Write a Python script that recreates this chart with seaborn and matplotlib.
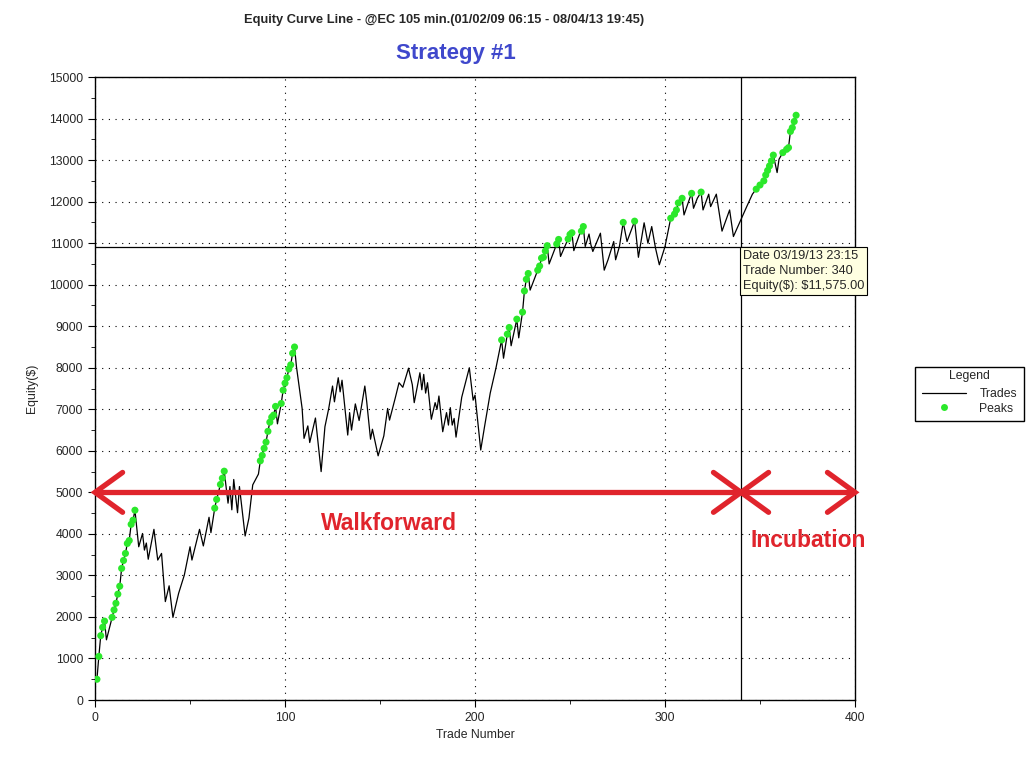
import numpy as np
import pandas as pd
import matplotlib
matplotlib.use("Agg")
import matplotlib.pyplot as plt
from matplotlib.lines import Line2D
import seaborn as sns

# equity curve vertices (trade number, equity $)
trade_no = [1, 2, 3, 4, 5, 6, 9, 10, 11, 12, 13, 14, 15, 16, 17, 18, 19, 20, 21,
            23, 25, 26, 27, 28, 31, 33, 35, 37, 39, 41, 44, 47, 50, 51, 55, 57, 60, 61,
            63, 64, 66, 67, 68, 70, 71, 72, 73, 75, 76, 79, 81, 83, 86,
            87, 88, 89, 90, 91, 92, 93, 94, 95, 96, 98, 99, 100, 101, 102, 103, 104, 105,
            106, 109, 110, 112, 113, 116, 119, 121, 123, 125, 126, 128, 129, 130,
            133, 134, 135, 137, 139, 142, 143, 145, 146, 149, 152, 154, 155, 158, 160,
            162, 165, 167, 168, 171, 172, 173, 174, 175, 177, 179, 180, 181, 183, 185,
            186, 187, 188, 189, 190, 193, 197, 199, 200, 203, 205, 208, 211,
            214, 215, 217, 218, 219, 222, 223, 225, 226, 227, 228, 229,
            233, 234, 235, 236, 237, 238, 239, 243, 244, 245, 249, 250, 251, 252,
            255, 256, 257, 258, 260, 261, 262, 266, 268, 270, 273, 274, 276, 278, 280,
            284, 286, 289, 291, 293, 295, 297, 300, 303, 305, 306, 307, 309, 310,
            313, 314, 315, 317, 319, 320, 323, 324, 327, 330, 334, 336, 340, 343, 346,
            348, 350, 352, 353, 354, 355, 356, 357, 359, 360, 362, 364, 365, 366, 367,
            368, 369]
equity = [500, 1050, 1550, 1750, 1900, 1450, 1990, 2170, 2330, 2550, 2740, 3170, 3360, 3530, 3770, 3840, 4230, 4330, 4570,
          3690, 4010, 3610, 3780, 3390, 4110, 3370, 3530, 2370, 2750, 1990, 2570, 3010, 3690, 3370, 4110, 3710, 4400, 4030,
          4620, 4830, 5190, 5340, 5510, 4740, 5140, 4580, 5310, 4510, 5140, 3950, 4380, 5180, 5440,
          5760, 5890, 6060, 6210, 6470, 6690, 6810, 6860, 7070, 6650, 7140, 7460, 7630, 7760, 7970, 8070, 8350, 8500,
          8030, 7020, 6300, 6600, 6200, 6790, 5500, 6580, 7020, 7560, 7180, 7760, 7420, 7700,
          6380, 6920, 6500, 7130, 6730, 7560, 7180, 6280, 6520, 5880, 6360, 7020, 6740, 7270, 7640,
          7530, 7990, 7590, 7160, 7880, 7470, 7840, 7390, 7640, 6760, 7160, 7000, 7320, 6460, 6920,
          6620, 7040, 6620, 6780, 6330, 7290, 8000, 7220, 7340, 6020, 6580, 7390, 7990,
          8670, 8230, 8810, 8970, 8530, 9170, 8720, 9340, 9850, 10130, 10270, 9870,
          10350, 10450, 10640, 10660, 10810, 10940, 10500, 10980, 11090, 10680, 11100, 11210, 11250, 10820,
          11210, 11290, 11400, 10920, 11220, 10960, 10800, 11240, 10350, 10600, 11040, 10600, 10920, 11500, 11040,
          11530, 10660, 11490, 11000, 11400, 10880, 10480, 10920, 11600, 11700, 11800, 11970, 12080, 11680,
          12080, 12200, 11840, 12080, 12230, 11800, 12180, 11880, 12180, 11290, 11800, 11160, 11575, 11880, 12180,
          12300, 12400, 12500, 12640, 12750, 12860, 12980, 13120, 12700, 13020, 13180, 13260, 13300, 13690, 13780,
          13930, 14080]

# trades that made a new equity high
peak_trades = [1, 2, 3, 4, 5, 9, 10, 11, 12, 13, 14, 15, 16, 17, 18, 19, 20, 21,
               63, 64, 66, 67, 68, 87, 88, 89, 90, 91, 92, 93, 94, 95, 98, 99, 100,
               101, 102, 103, 104, 105, 214, 217, 218, 222, 225, 226, 227, 228,
               233, 234, 235, 236, 237, 238, 243, 244, 249, 250, 251, 256, 257, 278, 284,
               303, 305, 306, 307, 309, 314, 319, 348, 350, 352, 353, 354, 355, 356, 357,
               362, 364, 365, 366, 367, 368, 369]

cursor_trade = 340
cursor_equity = 10900
red = "#E0242C"

df = pd.DataFrame({"trade": trade_no, "equity": equity})
peaks = df[df["trade"].isin(peak_trades)]

sns.set_style("white")
plt.rcParams["font.family"] = ["Liberation Sans", "DejaVu Sans"]

fig = plt.figure(figsize=(10.33, 7.59), dpi=100)
ax = fig.add_axes([0.092, 0.0777, 0.7357, 0.8208])

sns.lineplot(data=df, x="trade", y="equity", ax=ax, color="black", lw=0.9,
             sort=False, estimator=None, legend=False)
sns.scatterplot(data=peaks, x="trade", y="equity", ax=ax, color="#2BE82B",
                s=26, edgecolor="none", zorder=3, legend=False)

ax.set_xlim(0, 400)
ax.set_ylim(0, 15000)
ax.set_xticks(np.arange(0, 401, 100))
ax.set_yticks(np.arange(0, 15001, 1000))
ax.set_xticks(np.arange(0, 401, 50), minor=True)
ax.set_yticks(np.arange(0, 15001, 500), minor=True)
ax.tick_params(which="both", direction="out", color="black", labelsize=8.8, left=True, bottom=True)
ax.tick_params(which="major", length=5)
ax.tick_params(which="minor", length=3)
ax.grid(True, which="major", color="black", linestyle=(0, (1, 5)), lw=0.8)
for s in ax.spines.values():
    s.set_color("black")
    s.set_linewidth(1)

ax.set_xlabel("Trade Number", fontsize=8.8, labelpad=4)
ax.set_ylabel("Equity($)", fontsize=8.8, labelpad=8)

fig.text(0.43, 0.973, "Equity Curve Line - @EC 105 min.(01/02/09 06:15 - 08/04/13 19:45)",
         ha="center", va="center", fontsize=9.3, fontweight="bold")
fig.text(0.441, 0.929, "Strategy #1", ha="center", va="center", fontsize=16,
         fontweight="bold", color="#3F48CC")

# cursor crosshair and readout
ax.axvline(cursor_trade, color="black", lw=0.9)
ax.axhline(cursor_equity, color="black", lw=0.9)
ax.text(cursor_trade + 1, cursor_equity - 60,
        "Date 03/19/13 23:15\nTrade Number: 340\nEquity(\\$): \\$11,575.00",
        ha="left", va="top", fontsize=9.2, linespacing=1.35, clip_on=False, zorder=5,
        bbox=dict(boxstyle="square,pad=0.2", fc="#FFFFE1", ec="black", lw=0.8))

# walkforward / incubation annotation arrows
ax.plot([0, 400], [5000, 5000], color=red, lw=3.8, solid_capstyle="butt", clip_on=False, zorder=4)
dx, dy = 14.5, 480
for tip, d in [(0, 1), (400, -1), (cursor_trade, -1), (cursor_trade, 1)]:
    ax.plot([tip + d * dx, tip, tip + d * dx], [5000 + dy, 5000, 5000 - dy],
            color=red, lw=3.8, clip_on=False, zorder=4, solid_joinstyle="miter")
ax.text(119, 4240, "Walkforward", color=red, fontsize=16.5, fontweight="bold",
        ha="left", va="center")
ax.text(345, 3830, "Incubation", color=red, fontsize=16.5, fontweight="bold",
        ha="left", va="center", clip_on=False)

handles = [Line2D([0], [0], color="black", lw=0.9),
           Line2D([0], [0], marker="o", color="none", markerfacecolor="#2BE82B",
                  markeredgecolor="none", markersize=5)]
leg = fig.legend(handles, ["Trades", "Peaks"], title="Legend", loc="upper left",
                 bbox_to_anchor=(0.886, 0.5165), borderaxespad=0, fontsize=8.8,
                 title_fontsize=8.8, frameon=True, fancybox=False, edgecolor="black",
                 framealpha=1, handlelength=3.6, handletextpad=1.1, borderpad=0.55,
                 labelspacing=0.2)
leg.get_frame().set_linewidth(1)
leg.get_title().set_y(4)

fig.savefig("out.png", dpi=100, facecolor="white")
